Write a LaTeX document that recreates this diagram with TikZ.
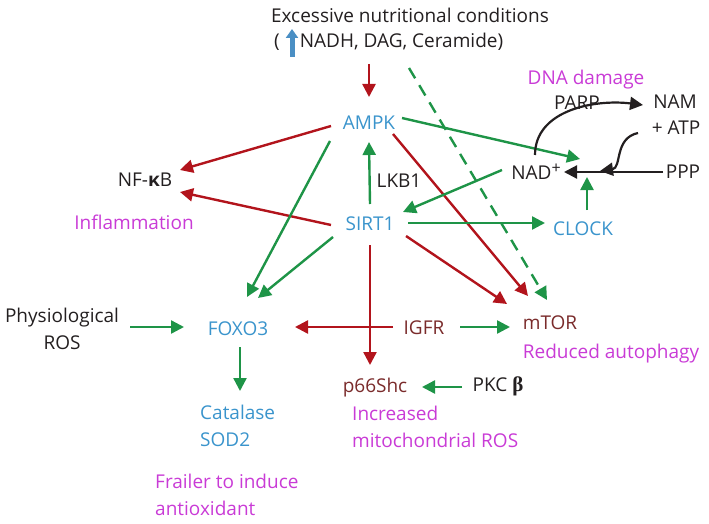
\documentclass[tikz,border=0pt]{standalone}
\usepackage{fontspec}
\setmainfont{Open Sans}
\newfontfamily\serifgr{Liberation Serif}
\usetikzlibrary{arrows.meta,calc}
\definecolor{cred}{HTML}{B2141C}
\definecolor{cgreen}{HTML}{1E9447}
\definecolor{cblue}{HTML}{3A94CC}
\definecolor{cmag}{HTML}{C93BD6}
\definecolor{cbrown}{HTML}{7A2B2B}
\definecolor{ctext}{HTML}{231F20}
\definecolor{cup}{HTML}{4A8FC4}
\tikzset{
  lbl/.style={font=\fontsize{19}{27}\selectfont, inner sep=0pt, text=ctext},
  bluelbl/.style={lbl, text=cblue},
  maglbl/.style={lbl, text=cmag},
  brownlbl/.style={lbl, text=cbrown},
  conn/.style={line width=2.4pt, -{Triangle[length=13pt,width=13pt]}},
  redarr/.style={conn, draw=cred},
  greenarr/.style={conn, draw=cgreen},
  blackarr/.style={conn, draw=ctext, line width=2.2pt},
}
\begin{document}
\begin{tikzpicture}[x=1pt,y=-1pt]
\useasboundingbox (0,0) rectangle (709,524);
% nodes
\node[lbl] (title1) at (410,15) {Excessive nutritional conditions};
\node[lbl, anchor=west] (title2) at (274,42) {(\hspace{20pt}NADH, DAG, Ceramide)};
\node[bluelbl] (ampk) at (369,123) {AMPK};
\node[lbl] (nfkb) at (145,180) {NF-\textbf{κ}B};
\node[maglbl] (infl) at (134,222) {Inflammation};
\node[lbl] (lkb1) at (399,181) {LKB1};
\node[bluelbl] (sirt1) at (370,224) {SIRT1};
\node[lbl] (nad) at (536,172) {NAD\raisebox{6pt}{\fontsize{16}{16}\selectfont +}};
\node[maglbl] (dna) at (586,80) {DNA damage};
\node[lbl] (parp) at (577,103) {PARP};
\node[lbl] (nam) at (675,102) {NAM};
\node[lbl] (atp) at (676,128) {+ ATP};
\node[lbl] (ppp) at (683,172) {PPP};
\node[bluelbl] (clock) at (583,229) {CLOCK};
\node[bluelbl] (foxo3) at (238,329) {FOXO3};
\node[lbl, align=center] (phys) at (62,329) {Physiological\\ROS};
\node[brownlbl] (igfr) at (424,328) {IGFR};
\node[brownlbl] (mtor) at (550,323) {mTOR};
\node[maglbl] (auto) at (611,354) {Reduced autophagy};
\node[brownlbl] (p66) at (375,388) {p66Shc};
\node[lbl] (pkc) at (498,386) {PKC {\serifgr\bfseries\fontsize{21}{21}\selectfont β}};
\node[maglbl, align=left, anchor=west] (incr) at (352,427) {Increased\\mitochondrial ROS};
\node[bluelbl, align=left, anchor=west] (cat) at (200,426) {Catalase\\SOD2};
\node[maglbl, align=left, anchor=west] (frail) at (155,495) {Frailer to induce\\antioxidant};
% up arrow in title
\draw[draw=cup, line width=5pt, -{Triangle[length=9pt,width=12pt]}] ($(title2.west)+(18,15)$) -- ($(title2.west)+(18,-13)$);
% connectors
\draw[redarr] ($(title1)+(-41,49)$) -- ($(ampk)+(0,-26)$);
\draw[greenarr, dash pattern=on 12pt off 8pt] ($(title1)+(-1,53)$) -- ($(mtor)+(-3,-23)$);
\draw[redarr] ($(ampk)+(-38,3)$) -- ($(nfkb)+(35,-10)$);
\draw[redarr] ($(sirt1)+(-39,1)$) -- ($(nfkb)+(35,12)$);
\draw[greenarr] ($(ampk)+(-39,18)$) -- ($(foxo3)+(9,-32)$);
\draw[greenarr] ($(sirt1)+(-37,13)$) -- ($(foxo3)+(20,-31)$);
\draw[greenarr] ($(ampk)+(33,-5)$) -- ($(nad)+(44,-13)$);
\draw[redarr] ($(ampk)+(24,11)$) -- ($(mtor)+(-22,-27)$);
\draw[redarr] ($(sirt1)+(36,12)$) -- ($(mtor)+(-43,-19)$);
\draw[greenarr] ($(sirt1)+(0,-20)$) -- ($(ampk)+(0,19)$);
\draw[greenarr] ($(nad)+(-34,-2)$) -- ($(sirt1)+(33,-12)$);
\draw[greenarr] ($(sirt1)+(38,-1)$) -- ($(clock)+(-38,-6)$);
\draw[greenarr] ($(clock)+(4,-19)$) -- ($(nad)+(51,5)$);
\draw[blackarr] ($(ppp)+(-20,0)$) -- ($(nad)+(28,0)$);
\draw[blackarr] ($(atp)+(-38,5)$) .. controls ($(atp)+(-62,10)$) and ($(atp)+(-54,40)$) .. ($(nad)+(64,-1)$);
\draw[blackarr] ($(nad)+(-1,-17)$) .. controls ($(nad)+(-1,-62)$) and ($(nam)+(-80,-3)$) .. ($(nam)+(-32,3)$);
\draw[greenarr] ($(phys)+(68,-2)$) -- ($(foxo3)+(-54,-2)$);
\draw[greenarr] ($(foxo3)+(2,18)$) -- ($(cat.west)+(40,-35)$);
\draw[redarr] ($(igfr)+(-31,-1)$) -- ($(foxo3)+(57,-2)$);
\draw[redarr] ($(sirt1)+(0,21)$) -- ($(p66)+(-5,-23)$);
\draw[greenarr] ($(igfr)+(36,-1)$) -- ($(mtor)+(-40,4)$);
\draw[greenarr] ($(pkc)+(-36,1)$) -- ($(p66)+(47,-1)$);
\end{tikzpicture}
\end{document}
